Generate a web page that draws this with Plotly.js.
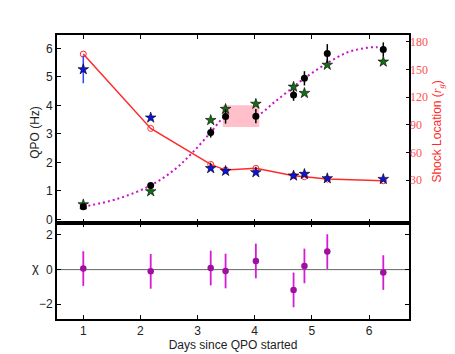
<!DOCTYPE html>
<html><head><meta charset="utf-8">
<script src="https://cdn.plot.ly/plotly-3.0.1.min.js"></script>
<style>body{margin:0;background:#fff}#c{width:455px;height:354px}</style>
</head><body><div id="c"></div>
<script>
// Observation days
var days = [1.00, 2.18, 3.23, 3.49, 4.02, 4.68, 4.87, 5.27, 6.25];
// Observed QPO frequency (Hz) and errors
var qpo = [0.44, 1.19, 3.05, 3.61, 3.62, 4.36, 4.95, 5.82, 5.96];
var qpoErr = [0.06, 0.10, 0.18, 0.25, 0.25, 0.20, 0.25, 0.33, 0.25];
// Model QPO (green stars, Hz)
var qpoModel = [0.52, 0.98, 3.48, 3.87, 4.05, 4.65, 4.43, 5.42, 5.53];
// Shock location (r_g) - red line with open circles
var shockFit = [166.6, 86, 47, 40.8, 42.7, 34.7, 33.6, 31, 29.2];
// Shock location from other estimate (blue stars, r_g)
var shockObs = [150, 97.6, 42.7, 39.8, 38.3, 34.7, 36.5, 31.8, 31];
var shockObsErr = [15, 3, 0, 0, 0, 0, 0, 0, 0];
// Fitted QPO evolution curve (dotted)
var curveX = [1.00, 1.6, 2.18, 2.60, 2.90, 3.23, 3.49, 3.75, 4.02, 4.35, 4.68, 4.87, 5.26, 5.61, 5.90, 6.14, 6.25];
var curveY = [0.44, 0.72, 1.19, 1.75, 2.32, 3.05, 3.61, 3.62, 3.62, 4.12, 4.65, 4.95, 5.47, 5.85, 6.00, 6.04, 5.96];
// Highlighted interval box (days, Hz)
var boxX = [3.44, 4.08, 4.08, 3.44, 3.44];
var boxY = [3.24, 3.24, 4.00, 4.00, 3.24];
// Residuals chi
var chi = [0.06, -0.10, 0.09, -0.08, 0.50, -1.17, 0.21, 1.04, -0.17];
var chiErr = [1, 1, 1, 1, 1, 1, 1, 1, 1];
// Tick labels
var xTicks = [1, 2, 3, 4, 5, 6];
var qpoTicks = [0, 1, 2, 3, 4, 5, 6];
var shockTicks = [30, 60, 90, 120, 150, 180];
var chiTicks = [-2, 0, 2];
// Axis titles
var xTitle = 'Days since QPO started';
var qpoTitle = 'QPO (Hz)';
var chiTitle = 'χ';
var shockTitle = 'Shock Location (<span style="font-family:Liberation Serif"><i>r<sub>g</sub></i></span>)';

var RED = '#ff2a2a';
var TICKRED = '#ff5050';
var SANS = 'Liberation Sans, Arial, sans-serif';
var SERIF = 'Liberation Serif, DejaVu Serif, serif';

var traces = [
  {x: curveX, y: curveY, xaxis: 'x2', yaxis: 'y2', mode: 'lines', line: {shape: 'spline', dash: '2px,3px', color: '#cc11cc', width: 2}, hoverinfo: 'skip'},
  {x: boxX, y: boxY, xaxis: 'x2', yaxis: 'y2', mode: 'lines', fill: 'toself', fillcolor: '#ffc0cb', line: {width: 0, color: '#ffc0cb'}},
  {x: days, y: shockFit, xaxis: 'x2', yaxis: 'y3', mode: 'lines+markers', line: {color: RED, width: 1.5}, marker: {symbol: 'circle-open', size: 6, color: RED, line: {width: 1}}},
  {x: days, y: shockObs, xaxis: 'x2', yaxis: 'y3', mode: 'markers', error_y: {type: 'data', array: shockObsErr, color: '#3344ff', thickness: 1.5, width: 0}, marker: {symbol: 'star', size: 8, color: '#0a14e6', line: {width: 0.6, color: '#000'}}},
  {x: days, y: qpoModel, xaxis: 'x2', yaxis: 'y2', mode: 'markers', marker: {symbol: 'star', size: 8, color: '#146e14', line: {width: 0.6, color: '#000'}}},
  {x: days, y: qpo, xaxis: 'x2', yaxis: 'y2', mode: 'markers', error_y: {type: 'data', array: qpoErr, color: '#000', thickness: 1.5, width: 0}, marker: {symbol: 'circle', size: 7, color: '#000'}},
  {x: [0.54, 6.70], y: [0, 0], xaxis: 'x', yaxis: 'y', mode: 'lines', line: {color: '#666', width: 1}},
  {x: days, y: chi, xaxis: 'x', yaxis: 'y', mode: 'markers', error_y: {type: 'data', array: chiErr, color: '#d61ad6', thickness: 1.8, width: 0}, marker: {symbol: 'circle', size: 6.5, color: '#a010a0'}}
];

var axBase = {showline: true, linecolor: '#000', linewidth: 2, ticks: 'inside', ticklen: 4, tickcolor: '#000', zeroline: false, showgrid: false, tickfont: {family: SANS, size: 12, color: '#222'}};

var layout = {
  width: 455, height: 354,
  margin: {l: 57, r: 46, t: 35, b: 35},
  showlegend: false,
  paper_bgcolor: '#fff', plot_bgcolor: '#fff',
  xaxis: Object.assign({}, axBase, {range: [0.54, 6.70], domain: [0, 1], anchor: 'y', mirror: 'ticks', tickvals: xTicks,
    title: {text: xTitle, font: {family: SANS, size: 12, color: '#222'}, standoff: 0}}),
  yaxis: Object.assign({}, axBase, {range: [-2.85, 2.69], domain: [0, 0.338], anchor: 'x', mirror: 'ticks', tickvals: chiTicks}),
  xaxis2: Object.assign({}, axBase, {range: [0.54, 6.70], domain: [0, 1], anchor: 'y2', mirror: 'ticks', tickvals: xTicks, showticklabels: false}),
  yaxis2: Object.assign({}, axBase, {range: [-0.13, 6.47], domain: [0.338, 1], anchor: 'x2', mirror: true, tickvals: qpoTicks}),
  yaxis3: {range: [-16.6, 187.3], overlaying: 'y2', anchor: 'x2', side: 'right', showline: false, showgrid: false, zeroline: false,
    ticks: 'inside', ticklen: 3, tickcolor: '#000', tickvals: shockTicks,
    tickfont: {family: SERIF, size: 12, color: TICKRED}},
  annotations: [
    {text: qpoTitle, xref: 'paper', yref: 'paper', x: -0.062, y: 0.656, xanchor: 'center', yanchor: 'middle', textangle: -90, showarrow: false, font: {family: SANS, size: 12, color: '#222'}},
    {text: chiTitle, xref: 'paper', yref: 'paper', x: -0.062, y: 0.18, xanchor: 'center', yanchor: 'middle', showarrow: false, font: {family: SANS, size: 13, color: '#222'}},
    {text: shockTitle, xref: 'paper', yref: 'paper', x: 1.054, y: 0.66, xanchor: 'left', yanchor: 'middle', textangle: -90, showarrow: false, font: {family: SANS, size: 12, color: RED}}
  ]
};

Plotly.newPlot('c', traces, layout, {displayModeBar: false, staticPlot: true});
</script>
</body></html>
